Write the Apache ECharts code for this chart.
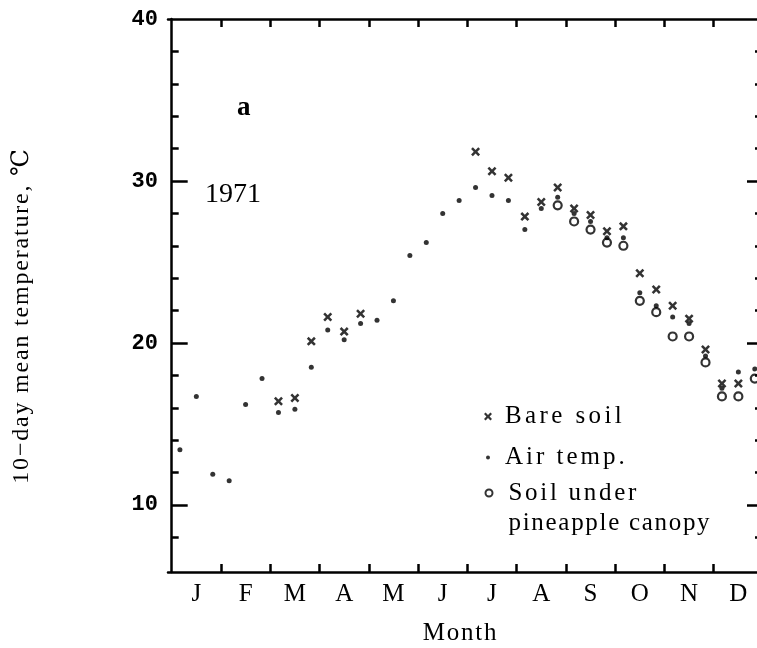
<!DOCTYPE html>
<html>
<head>
<meta charset="utf-8">
<script src="https://cdn.jsdelivr.net/npm/echarts@6/dist/echarts.min.js"></script>
<style>
  html, body { margin: 0; padding: 0; background: #fff; }
  #chart { width: 757px; height: 648px; }
</style>
</head>
<body>
<div id="chart"></div>
<script>
// Month initials along the bottom axis
const monthLabels = ['J', 'F', 'M', 'A', 'M', 'J', 'J', 'A', 'S', 'O', 'N', 'D'];
// Temperature axis ticks (°C)
const yMajorTicks = [10, 20, 30];
const yTickLabels = [10, 20, 30, 40];
const yMinorTicks = [8, 12, 14, 16, 18, 22, 24, 26, 28, 32, 34, 36, 38];

// 10-day mean temperatures for 1971, one entry per 10-day period (36 per year);
// null where no measurement was taken
const airTemp = [
  13.4, 16.7, 11.9, 11.5, 16.2, 17.8, 15.7, 15.9, 18.5, 20.8, 20.2, 21.2,
  21.4, 22.6, 25.4, 26.2, 28.0, 28.8, 29.6, 29.1, 28.8, 27.0, 28.3, 29.0,
  28.0, 27.5, 26.5, 26.5, 23.1, 22.3, 21.6, 21.2, 19.2, 17.2, 18.2, 18.4
];
const bareSoil = [
  null, null, null, null, null, null, 16.4, 16.6, 20.1, 21.6, 20.7, 21.8,
  null, null, null, null, null, null, 31.8, 30.6, 30.2, 27.8, 28.7, 29.6,
  28.3, 27.9, 26.9, 27.2, 24.3, 23.3, 22.3, 21.5, 19.6, 17.5, 17.5, null
];
const canopySoil = [
  null, null, null, null, null, null, null, null, null, null, null, null,
  null, null, null, null, null, null, null, null, null, null, null, 28.5,
  27.5, 27.0, 26.2, 26.0, 22.6, 21.9, 20.4, 20.4, 18.8, 16.7, 16.7, 17.8
];

const Y_MIN = 5.86;
const Y_MAX = 40;
const X_MIN = -0.225;   // the frame starts just before 1 January
const X_MAX = 36;       // 36 ten-day periods

// Tick positions: month boundaries; labels centred on each month
const monthBounds = [];
for (let m = 1; m < 12; m++) monthBounds.push(m * 3);
const monthMids = monthLabels.map((_, m) => m * 3 + 1.5);

// Place each 10-day value at the middle of its period
function toPoints(arr) {
  const pts = [];
  arr.forEach((v, i) => { if (v != null) pts.push([i + 0.5, v]); });
  return pts;
}

// Typewriter-like tracking: one rich-text token per character
function spaced(text, style) {
  return Array.from(text).map(ch => '{' + style + '|' + ch + '}').join('');
}

const SERIF = '"Liberation Serif", "DejaVu Serif", serif';
const crossPath = 'path://M2,0 L5,3 L8,0 L10,2 L7,5 L10,8 L8,10 L5,7 L2,10 L0,8 L3,5 L0,2 Z';
const axisLine = { show: true, lineStyle: { color: '#000', width: 2.5 } };
const trackStyle = (size, gap) => ({ fontFamily: SERIF, fontSize: size, color: '#000', padding: [0, gap, 0, 0] });

const legendNames = ['Bare soil', 'Air temp.', 'Soil under pineapple canopy'];

const chart = echarts.init(document.getElementById('chart'), null, { renderer: 'canvas' });

chart.setOption({
  backgroundColor: '#fff',
  animation: false,
  grid: { left: 168, top: 19, width: 595, height: 553, containLabel: false, outerBoundsMode: 'none' },
  xAxis: [
    {
      type: 'value', position: 'bottom', min: X_MIN, max: X_MAX,
      name: spaced('Month', 't'), nameLocation: 'middle', nameGap: 49,
      nameTextStyle: { fontFamily: SERIF, fontSize: 25, color: '#000', padding: [0, 10, 0, 0],
                       rich: { t: trackStyle(25, 1.8) } },
      axisLine: axisLine,
      axisTick: { show: true, inside: true, length: 8, customValues: monthBounds,
                  lineStyle: { color: '#000', width: 2.5 } },
      axisLabel: { show: true, customValues: monthMids, margin: 10,
                   formatter: v => monthLabels[Math.floor(v / 3)],
                   fontFamily: SERIF, fontSize: 25, color: '#000' },
      splitLine: { show: false }
    },
    {
      type: 'value', position: 'top', min: X_MIN, max: X_MAX,
      axisLine: axisLine,
      axisTick: { show: true, inside: true, length: 8, customValues: monthBounds,
                  lineStyle: { color: '#000', width: 2.5 } },
      axisLabel: { show: false },
      splitLine: { show: false }
    }
  ],
  yAxis: [
    {
      type: 'value', position: 'left', min: Y_MIN, max: Y_MAX,
      name: spaced('10\u2212day mean temperature, \u2103', 't'),
      nameLocation: 'middle', nameGap: 134, nameRotate: 90,
      nameTextStyle: { fontFamily: SERIF, fontSize: 24, color: '#000', padding: [0, 40, 0, 0],
                       rich: { t: trackStyle(24, 1.8) } },
      axisLine: axisLine,
      axisTick: { show: true, inside: true, length: 16, customValues: yMajorTicks,
                  lineStyle: { color: '#000', width: 2.5 } },
      axisLabel: { show: true, customValues: yTickLabels, margin: 10,
                   fontFamily: '"Liberation Mono", "DejaVu Sans Mono", monospace',
                   fontWeight: 'bold', fontSize: 22, color: '#000' },
      splitLine: { show: false }
    },
    {
      type: 'value', position: 'left', min: Y_MIN, max: Y_MAX,
      axisLine: { show: false },
      axisTick: { show: true, inside: true, length: 7, customValues: yMinorTicks,
                  lineStyle: { color: '#000', width: 2.5 } },
      axisLabel: { show: false },
      splitLine: { show: false }
    },
    {
      type: 'value', position: 'right', min: Y_MIN, max: Y_MAX,
      axisLine: axisLine,
      axisTick: { show: true, inside: true, length: 16, customValues: yMajorTicks,
                  lineStyle: { color: '#000', width: 2.5 } },
      axisLabel: { show: false },
      splitLine: { show: false }
    },
    {
      type: 'value', position: 'right', min: Y_MIN, max: Y_MAX,
      axisLine: { show: false },
      axisTick: { show: true, inside: true, length: 8, customValues: yMinorTicks,
                  lineStyle: { color: '#000', width: 2.5 } },
      axisLabel: { show: false },
      splitLine: { show: false }
    }
  ],
  legend: [
    {
      data: [{ name: legendNames[0], icon: crossPath }],
      left: 484, top: 404, padding: 0, itemWidth: 8, itemHeight: 8,
      formatter: n => spaced(n, 't'),
      textStyle: { fontFamily: SERIF, fontSize: 25, color: '#000', padding: [0, 0, 0, 8],
                   rich: { t: trackStyle(25, 3.4) } },
      selectedMode: false
    },
    {
      data: [{ name: legendNames[1], icon: 'circle' }],
      left: 486, top: 445, padding: 0, itemWidth: 4, itemHeight: 4,
      formatter: n => spaced(n, 't'),
      textStyle: { fontFamily: SERIF, fontSize: 25, color: '#000', padding: [0, 0, 0, 10],
                   rich: { t: trackStyle(25, 3.0) } },
      selectedMode: false
    },
    {
      data: [{ name: legendNames[2], icon: 'circle',
               itemStyle: { color: '#fff', borderColor: '#000', borderWidth: 2 } }],
      left: 484.5, top: 448, padding: 0, itemWidth: 7, itemHeight: 7,
      // blank first line keeps the symbol level with "Soil under"
      formatter: () => '{t| }\n' + spaced('Soil under', 'a') + '\n' + spaced('pineapple canopy', 'b'),
      textStyle: { fontFamily: SERIF, fontSize: 25, lineHeight: 30, color: '#000', padding: [0, 0, 0, 11],
                   rich: {
                     t: { fontFamily: SERIF, fontSize: 25, lineHeight: 30 },
                     a: Object.assign(trackStyle(25, 2.7), { lineHeight: 30 }),
                     b: Object.assign(trackStyle(25, 1.7), { lineHeight: 30 })
                   } },
      selectedMode: false
    }
  ],
  graphic: [
    { type: 'text', left: 237, top: 95, style: { text: 'a', font: 'bold 27px ' + SERIF, fill: '#000' } },
    { type: 'text', left: 205, top: 181, style: { text: '1971', font: '28px ' + SERIF, fill: '#000' } }
  ],
  series: [
    {
      name: legendNames[1], type: 'scatter', xAxisIndex: 0, yAxisIndex: 0,
      symbol: 'circle', symbolSize: 5,
      itemStyle: { color: '#000' },
      data: toPoints(airTemp), z: 3
    },
    {
      name: legendNames[0], type: 'scatter', xAxisIndex: 0, yAxisIndex: 0,
      symbol: crossPath, symbolSize: 9,
      itemStyle: { color: '#000' },
      data: toPoints(bareSoil), z: 4
    },
    {
      name: legendNames[2], type: 'scatter', xAxisIndex: 0, yAxisIndex: 0,
      symbol: 'circle', symbolSize: 8,
      itemStyle: { color: 'rgba(255,255,255,0)', borderColor: '#000', borderWidth: 2.2 },
      data: toPoints(canopySoil), z: 5
    }
  ]
});
</script>
</body>
</html>
